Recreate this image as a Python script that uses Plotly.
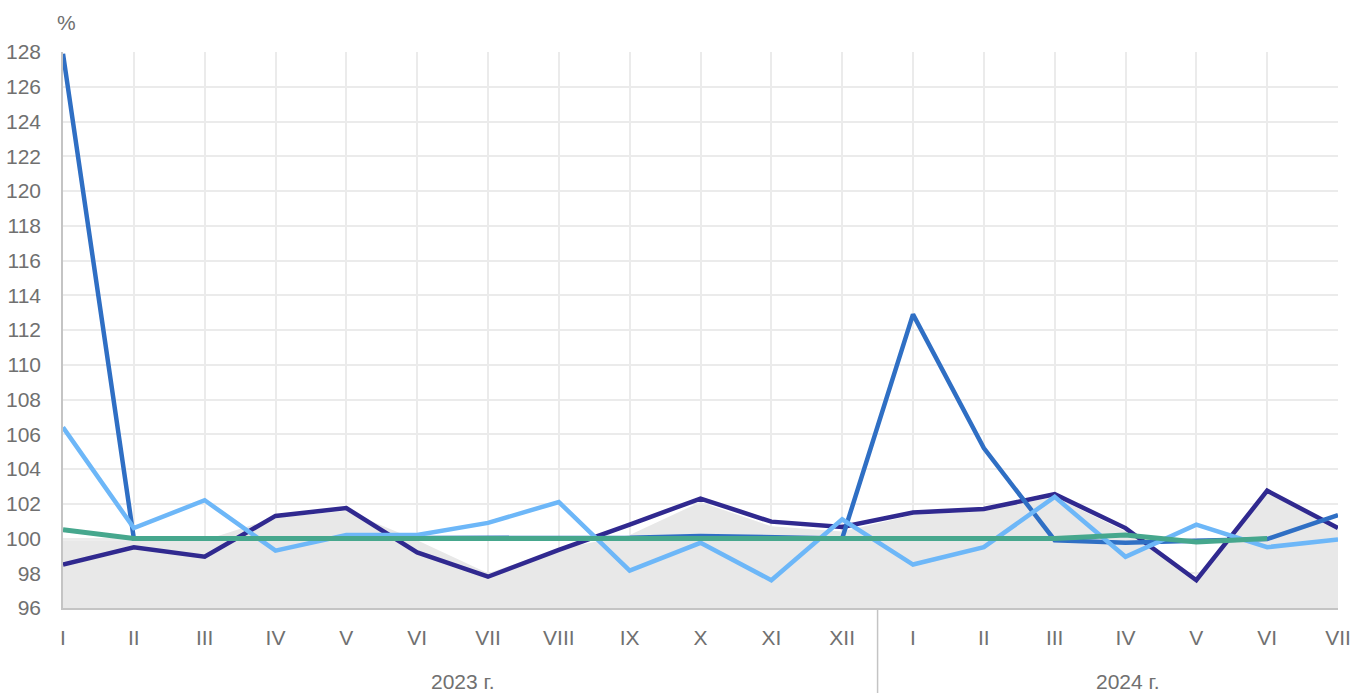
import plotly.graph_objects as go

years = ["2023 г.", "2024 г."]
months_2023 = ["I", "II", "III", "IV", "V", "VI", "VII", "VIII", "IX", "X", "XI", "XII"]
months_2024 = ["I", "II", "III", "IV", "V", "VI", "VII"]
categories = [f"2023-{m}" for m in months_2023] + [f"2024-{m}" for m in months_2024]
tick_text = months_2023 + months_2024

area_total = [99.9, 99.9, 99.9, 101.2, 101.6, 99.9, 98.0, 99.4, 100.2, 102.1, 100.7, 100.4,
              101.35, 101.6, 102.4, 100.4, 97.7, 102.6, 100.5]
purple = [98.5, 99.5, 98.95, 101.3, 101.75, 99.2, 97.8, 99.35, 100.8, 102.3, 100.97, 100.66,
          101.5, 101.7, 102.55, 100.6, 97.6, 102.75, 100.6]
mid_blue = [127.9, 100.0, 100.0, 100.0, 100.0, 100.0, 100.0, 100.0, 100.05, 100.15, 100.05, 100.0,
            112.9, 105.2, 99.9, 99.75, 99.87, 99.97, 101.35]
light_blue = [106.4, 100.6, 102.2, 99.3, 100.2, 100.2, 100.9, 102.1, 98.15, 99.75, 97.6, 101.1,
              98.5, 99.5, 102.4, 98.95, 100.8, 99.5, 99.95]
green = [100.5, 100.0, 100.0, 100.0, 100.0, 100.0, 100.0, 100.0, 100.0, 100.0, 100.0, 100.0,
         100.0, 100.0, 100.0, 100.2, 99.8, 100.0, None]

y_ticks = list(range(96, 129, 2))

fig = go.Figure()
fig.add_trace(go.Scatter(x=categories, y=area_total, mode="lines", line=dict(width=0, color="#e8e8e8"),
                         fill="tozeroy", fillcolor="#e8e8e8", hoverinfo="skip", showlegend=False))
fig.add_trace(go.Scatter(x=categories, y=purple, mode="lines", line=dict(width=4.5, color="#30298f"),
                         showlegend=False))
fig.add_trace(go.Scatter(x=categories, y=mid_blue, mode="lines", line=dict(width=4.5, color="#2f6fc4"),
                         showlegend=False))
fig.add_trace(go.Scatter(x=categories, y=light_blue, mode="lines", line=dict(width=4.5, color="#6db7f8"),
                         showlegend=False))
fig.add_trace(go.Scatter(x=categories, y=green, mode="lines", line=dict(width=5, color="#46a78d"),
                         showlegend=False))

font_color = "#707070"
fs = 21
W, H = 1363, 693
L, R, T, B = 63, 25, 52, 85
plot_h = H - T - B
fig.update_layout(
    width=W, height=H,
    margin=dict(l=L, r=R, t=T, b=B),
    paper_bgcolor="white", plot_bgcolor="white",
    font=dict(family="Liberation Sans, Arial, sans-serif", size=fs, color=font_color),
    xaxis=dict(type="category", categoryorder="array", categoryarray=categories,
               range=[0, len(categories) - 1], automargin=False,
               tickvals=categories, ticktext=tick_text,
               showgrid=True, gridcolor="#ebebeb", gridwidth=1.5,
               showline=True, linecolor="#c4c4c4", linewidth=1.5,
               ticks="", ticklabelstandoff=10, zeroline=False),
    yaxis=dict(range=[96, 128], tickvals=y_ticks, ticktext=[str(v) for v in y_ticks],
               automargin=False,
               showgrid=True, gridcolor="#ebebeb", gridwidth=1.5,
               showline=True, linecolor="#c4c4c4", linewidth=1.5,
               ticks="", ticklabelstandoff=16, zeroline=False),
)

fig.add_annotation(text="%", xref="paper", yref="paper", x=0, y=1, xanchor="center", yanchor="middle",
                   yshift=30, xshift=3, showarrow=False, font=dict(size=fs, color=font_color))
# year labels
fig.add_annotation(text=years[0], xref="x", yref="paper", x=categories[5], y=0, xshift=45,
                   yanchor="middle", yshift=-73, showarrow=False, font=dict(size=fs, color=font_color))
fig.add_annotation(text=years[1], xref="x", yref="paper", x=categories[15], y=0, xshift=2,
                   yanchor="middle", yshift=-73, showarrow=False, font=dict(size=fs, color=font_color))
# divider between years
fig.add_shape(type="line", xref="x", yref="paper", x0=11.5, x1=11.5, y0=0, y1=-B / plot_h,
              line=dict(color="#c4c4c4", width=1.5))

fig.write_html("out.html", config={"displayModeBar": False},
               post_script="document.body.style.margin='0';document.body.style.overflow='hidden';")
